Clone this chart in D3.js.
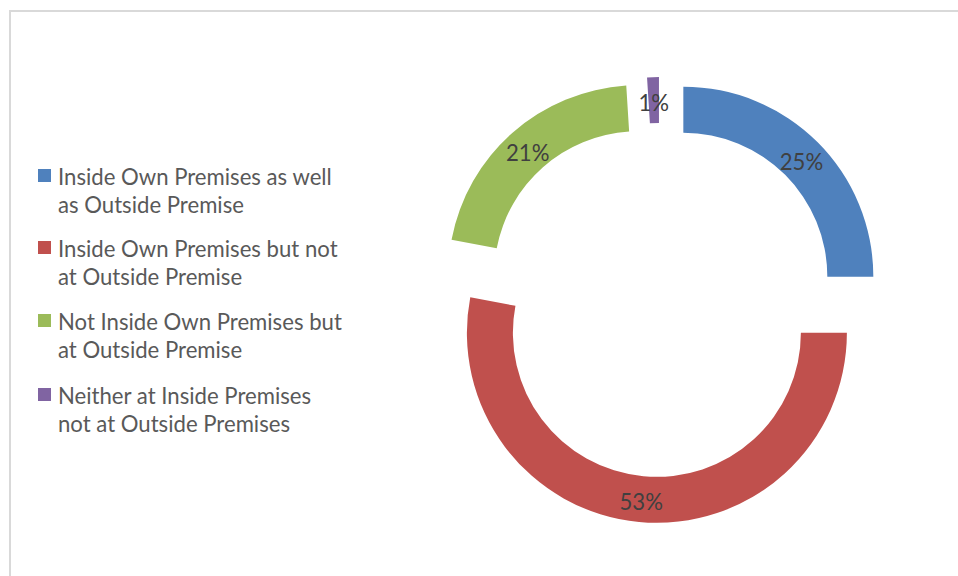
<!DOCTYPE html>
<html>
<head>
<meta charset="utf-8">
<script src="https://cdn.jsdelivr.net/npm/d3@7"></script>
<style>
  html, body { margin: 0; padding: 0; background: #fff; }
  svg { display: block; }
</style>
</head>
<body>
<svg id="chart" width="958" height="576"></svg>
<script>
// Share of respondents by where they work
const categories = [
  "Inside Own Premises as well as Outside Premise",
  "Inside Own Premises but not at Outside Premise",
  "Not Inside Own Premises but at Outside Premise",
  "Neither at Inside Premises not at Outside Premises"
];
const legendLines = [
  ["Inside Own Premises as well", "as Outside Premise"],
  ["Inside Own Premises but not", "at Outside Premise"],
  ["Not Inside Own Premises but", "at Outside Premise"],
  ["Neither at Inside Premises", "not at Outside Premises"]
];
const values = [25, 53, 21, 1];
const colors = ["#4F81BD", "#C0504D", "#9BBB59", "#8064A2"];

const W = 958, H = 576;
const svg = d3.select("#chart");
const fontFamily = "Lato, 'Open Sans', 'DejaVu Sans', sans-serif";

// outer frame
svg.append("rect")
  .attr("x", 10).attr("y", 11)
  .attr("width", W + 20).attr("height", H + 20)
  .attr("fill", "none")
  .attr("stroke", "#d9d9d9")
  .attr("stroke-width", 2);

// pick a font size so the longest legend line spans its width
const probe = svg.append("text")
  .attr("font-family", fontFamily)
  .attr("font-size", 100)
  .text(legendLines[0][0]);
const probeLen = probe.node().getComputedTextLength();
probe.remove();
const fontSize = Math.min(24, 100 * 274 / probeLen);

// exploded doughnut
const cx = 660, cy = 300;
const rOuter = 190, rInner = 144, explode = 33;

const data = categories.map((c, i) => ({ name: c, value: values[i], color: colors[i] }));
const pie = d3.pie().value(d => d.value).sort(null);
const arc = d3.arc().innerRadius(rInner).outerRadius(rOuter);
const labelArc = d3.arc().innerRadius(167).outerRadius(167);

const slices = svg.append("g")
  .attr("transform", `translate(${cx},${cy})`)
  .selectAll("g")
  .data(pie(data))
  .join("g")
  .attr("transform", d => {
    const a = (d.startAngle + d.endAngle) / 2;
    return `translate(${explode * Math.sin(a)},${-explode * Math.cos(a)})`;
  });

slices.append("path")
  .attr("d", arc)
  .attr("fill", d => d.data.color);

slices.append("text")
  .attr("transform", d => `translate(${labelArc.centroid(d)})`)
  .attr("text-anchor", "middle")
  .attr("dy", "0.5em")
  .attr("font-family", fontFamily)
  .attr("font-size", fontSize)
  .attr("fill", "#404040")
  .text(d => d.data.value + "%");

// legend
const legendBaselines = [185, 257, 330, 404];
const lineGap = 27.5;
const legend = svg.append("g")
  .selectAll("g")
  .data(data)
  .join("g");

legend.append("rect")
  .attr("x", 38)
  .attr("y", (d, i) => legendBaselines[i] - 16)
  .attr("width", 13).attr("height", 13)
  .attr("fill", d => d.color);

legend.append("text")
  .attr("font-family", fontFamily)
  .attr("font-size", fontSize)
  .attr("fill", "#595959")
  .selectAll("tspan")
  .data((d, i) => legendLines[i].map((t, j) => ({ t, y: legendBaselines[i] + j * lineGap })))
  .join("tspan")
  .attr("x", 58)
  .attr("y", d => d.y)
  .text(d => d.t);
</script>
</body>
</html>
